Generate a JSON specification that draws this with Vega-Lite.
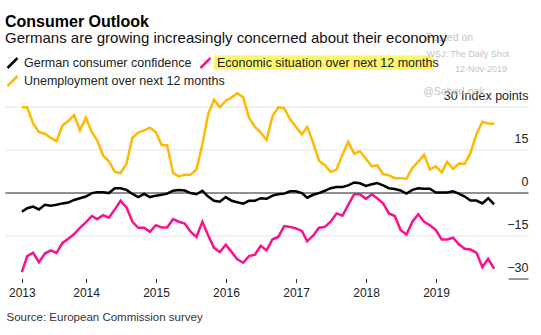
{
  "$schema": "https://vega.github.io/schema/vega-lite/v6.json",
  "width": 523,
  "height": 172,
  "autosize": {"type": "none"},
  "padding": {"left": 5, "top": 106.5, "right": 13, "bottom": 56.5},
  "background": "#ffffff",
  "config": {
    "font": "Liberation Sans",
    "view": {"stroke": null},
    "axis": {"labelFont": "Liberation Sans", "titleFont": "Liberation Sans"},
    "legend": {"labelFont": "Liberation Sans"}
  },
  "title": {
    "text": "Consumer Outlook",
    "subtitle": "Germans are growing increasingly concerned about their economy",
    "anchor": "start",
    "fontSize": 16,
    "fontWeight": "bold",
    "color": "#000000",
    "subtitleFontSize": 15,
    "subtitleColor": "#111111",
    "subtitlePadding": 0.5,
    "offset": -13
  },
  "layer": [
    {
      "data": {"values": [{}]},
      "mark": {"type": "rect", "color": "#faf76a"},
      "encoding": {
        "x": {"datum": {"year": 2015, "month": 10, "date": 29}, "type": "temporal"},
        "x2": {"datum": {"year": 2018, "month": 12, "date": 20}},
        "y": {"datum": 47.9, "type": "quantitative"},
        "y2": {"datum": 42.84}
      }
    },
    {
      "data": {"values": [{}]},
      "mark": {"type": "text", "align": "left", "baseline": "alphabetic", "fontSize": 10.5, "color": "#c4c4c4"},
      "encoding": {
        "x": {"datum": {"year": 2018, "month": 11, "date": 9}, "type": "temporal"},
        "y": {"datum": 53.0, "type": "quantitative"},
        "text": {"value": "Posted on"}
      }
    },
    {
      "data": {"values": [{}]},
      "mark": {"type": "text", "align": "left", "baseline": "alphabetic", "fontSize": 9, "color": "#c4c4c4"},
      "encoding": {
        "x": {"datum": {"year": 2018, "month": 11, "date": 12}, "type": "temporal"},
        "y": {"datum": 47.4, "type": "quantitative"},
        "text": {"value": "WSJ: The Daily Shot"}
      }
    },
    {
      "data": {"values": [{}]},
      "mark": {"type": "text", "align": "right", "baseline": "alphabetic", "fontSize": 9, "color": "#c4c4c4"},
      "encoding": {
        "x": {"datum": {"year": 2020, "month": 1, "date": 6}, "type": "temporal"},
        "y": {"datum": 41.9, "type": "quantitative"},
        "text": {"value": "12-Nov-2019"}
      }
    },
    {
      "data": {"values": [{}]},
      "mark": {"type": "text", "align": "left", "baseline": "alphabetic", "fontSize": 10.5, "color": "#c4c4c4"},
      "encoding": {
        "x": {"datum": {"year": 2018, "month": 10, "date": 27}, "type": "temporal"},
        "y": {"datum": 34.0, "type": "quantitative"},
        "text": {"value": "@SoberLook"}
      }
    },
    {
      "data": {
        "values": [
          {"date": "2013-01-31", "c": -6.7, "e": -27.8, "u": 29.7},
          {"date": "2013-02-28", "c": -5.5, "e": -22.2, "u": 29.7},
          {"date": "2013-03-31", "c": -4.9, "e": -21.0, "u": 24.0},
          {"date": "2013-04-30", "c": -5.9, "e": -24.3, "u": 21.1},
          {"date": "2013-05-31", "c": -4.3, "e": -21.3, "u": 20.5},
          {"date": "2013-06-30", "c": -4.6, "e": -20.2, "u": 19.1},
          {"date": "2013-07-31", "c": -4.3, "e": -21.1, "u": 17.9},
          {"date": "2013-08-31", "c": -3.8, "e": -17.6, "u": 23.4},
          {"date": "2013-09-30", "c": -3.5, "e": -16.1, "u": 24.9},
          {"date": "2013-10-31", "c": -2.6, "e": -14.5, "u": 27.0},
          {"date": "2013-11-30", "c": -2.0, "e": -12.3, "u": 21.7},
          {"date": "2013-12-31", "c": -1.4, "e": -10.4, "u": 26.1},
          {"date": "2014-01-31", "c": -0.2, "e": -8.2, "u": 21.1},
          {"date": "2014-02-28", "c": 0.1, "e": -9.3, "u": 18.2},
          {"date": "2014-03-31", "c": 0.1, "e": -7.9, "u": 12.9},
          {"date": "2014-04-30", "c": -0.2, "e": -8.8, "u": 10.9},
          {"date": "2014-05-31", "c": 1.5, "e": -5.9, "u": 7.2},
          {"date": "2014-06-30", "c": 1.5, "e": -2.9, "u": 6.8},
          {"date": "2014-07-31", "c": 0.9, "e": -5.2, "u": 10.1},
          {"date": "2014-08-31", "c": -0.5, "e": -10.2, "u": 19.1},
          {"date": "2014-09-30", "c": -1.6, "e": -12.3, "u": 20.9},
          {"date": "2014-10-31", "c": -0.5, "e": -12.3, "u": 21.7},
          {"date": "2014-11-30", "c": -1.6, "e": -13.7, "u": 22.6},
          {"date": "2014-12-31", "c": -1.1, "e": -11.4, "u": 21.1},
          {"date": "2015-01-31", "c": -0.8, "e": -12.2, "u": 16.5},
          {"date": "2015-02-28", "c": -0.4, "e": -12.2, "u": 16.5},
          {"date": "2015-03-31", "c": 0.6, "e": -9.3, "u": 6.8},
          {"date": "2015-04-30", "c": 0.9, "e": -10.2, "u": 5.6},
          {"date": "2015-05-31", "c": 0.7, "e": -10.8, "u": 6.2},
          {"date": "2015-06-30", "c": -0.2, "e": -13.7, "u": 6.2},
          {"date": "2015-07-31", "c": -0.6, "e": -15.5, "u": 8.0},
          {"date": "2015-08-31", "c": 0.6, "e": -10.2, "u": 16.8},
          {"date": "2015-09-30", "c": -1.4, "e": -14.9, "u": 27.3},
          {"date": "2015-10-31", "c": -2.9, "e": -19.3, "u": 32.4},
          {"date": "2015-11-30", "c": -3.2, "e": -20.8, "u": 29.7},
          {"date": "2015-12-31", "c": -1.6, "e": -18.2, "u": 32.0},
          {"date": "2016-01-31", "c": -2.9, "e": -20.8, "u": 33.2},
          {"date": "2016-02-29", "c": -3.4, "e": -23.3, "u": 34.6},
          {"date": "2016-03-31", "c": -3.9, "e": -24.5, "u": 33.2},
          {"date": "2016-04-30", "c": -2.9, "e": -22.2, "u": 26.1},
          {"date": "2016-05-31", "c": -2.9, "e": -21.7, "u": 22.9},
          {"date": "2016-06-30", "c": -2.0, "e": -18.6, "u": 20.9},
          {"date": "2016-07-31", "c": -2.2, "e": -20.2, "u": 18.3},
          {"date": "2016-08-31", "c": -1.1, "e": -16.3, "u": 26.7},
          {"date": "2016-09-30", "c": -0.6, "e": -15.5, "u": 29.7},
          {"date": "2016-10-31", "c": -0.4, "e": -11.7, "u": 29.4},
          {"date": "2016-11-30", "c": 0.4, "e": -12.0, "u": 25.6},
          {"date": "2016-12-31", "c": 0.4, "e": -12.5, "u": 22.9},
          {"date": "2017-01-31", "c": -0.2, "e": -13.4, "u": 20.3},
          {"date": "2017-02-28", "c": -1.8, "e": -17.0, "u": 22.9},
          {"date": "2017-03-31", "c": -0.8, "e": -15.1, "u": 17.4},
          {"date": "2017-04-30", "c": -0.2, "e": -12.3, "u": 11.1},
          {"date": "2017-05-31", "c": 0.6, "e": -12.0, "u": 9.5},
          {"date": "2017-06-30", "c": 1.5, "e": -10.2, "u": 7.2},
          {"date": "2017-07-31", "c": 1.9, "e": -7.3, "u": 8.0},
          {"date": "2017-08-31", "c": 1.9, "e": -8.1, "u": 13.2},
          {"date": "2017-09-30", "c": 2.5, "e": -4.3, "u": 17.7},
          {"date": "2017-10-31", "c": 3.5, "e": -0.6, "u": 13.5},
          {"date": "2017-11-30", "c": 3.2, "e": -0.6, "u": 14.4},
          {"date": "2017-12-31", "c": 2.3, "e": -2.2, "u": 11.8},
          {"date": "2018-01-31", "c": 2.9, "e": -0.6, "u": 9.1},
          {"date": "2018-02-28", "c": 3.3, "e": -2.0, "u": 9.5},
          {"date": "2018-03-31", "c": 2.5, "e": -3.8, "u": 6.4},
          {"date": "2018-04-30", "c": 1.5, "e": -7.3, "u": 6.0},
          {"date": "2018-05-31", "c": 1.2, "e": -8.2, "u": 5.0},
          {"date": "2018-06-30", "c": 0.7, "e": -13.1, "u": 5.0},
          {"date": "2018-07-31", "c": -0.4, "e": -14.7, "u": 4.8},
          {"date": "2018-08-31", "c": 0.9, "e": -10.2, "u": 8.6},
          {"date": "2018-09-30", "c": 1.5, "e": -7.6, "u": 10.7},
          {"date": "2018-10-31", "c": 1.3, "e": -10.2, "u": 13.2},
          {"date": "2018-11-30", "c": 1.3, "e": -11.4, "u": 8.0},
          {"date": "2018-12-31", "c": 0.0, "e": -13.1, "u": 9.1},
          {"date": "2019-01-31", "c": 0.0, "e": -16.4, "u": 7.0},
          {"date": "2019-02-28", "c": 0.0, "e": -16.4, "u": 10.7},
          {"date": "2019-03-31", "c": 0.4, "e": -15.8, "u": 8.2},
          {"date": "2019-04-30", "c": -0.4, "e": -18.1, "u": 10.1},
          {"date": "2019-05-31", "c": -1.4, "e": -19.6, "u": 10.0},
          {"date": "2019-06-30", "c": -2.8, "e": -19.9, "u": 13.8},
          {"date": "2019-07-31", "c": -2.8, "e": -21.0, "u": 20.3},
          {"date": "2019-08-31", "c": -3.8, "e": -26.0, "u": 24.7},
          {"date": "2019-09-30", "c": -2.0, "e": -23.1, "u": 24.1},
          {"date": "2019-10-31", "c": -4.1, "e": -26.6, "u": 24.0}
        ]
      },
      "transform": [{"fold": ["c", "e", "u"], "as": ["series", "value"]}],
      "mark": {"type": "line", "strokeWidth": 2.5, "strokeJoin": "miter"},
      "encoding": {
        "x": {
          "field": "date",
          "type": "temporal",
          "scale": {"domain": [{"year": 2012, "month": 11, "date": 4}, {"year": 2020, "month": 4, "date": 25}]},
          "axis": {
            "values": [
              {"year": 2013, "month": 1, "date": 31},
              {"year": 2014, "month": 1, "date": 1},
              {"year": 2015, "month": 1, "date": 1},
              {"year": 2016, "month": 1, "date": 1},
              {"year": 2017, "month": 1, "date": 1},
              {"year": 2018, "month": 1, "date": 1},
              {"year": 2019, "month": 1, "date": 1}
            ],
            "format": "%Y",
            "grid": false,
            "domain": false,
            "tickSize": 4,
            "tickColor": "#333333",
            "labelFontSize": 12,
            "labelColor": "#222222",
            "labelPadding": 5,
            "title": "Source: European Commission survey",
            "titleAnchor": "start",
            "titleAlign": "left",
            "titleBaseline": "alphabetic",
            "titleX": 1,
            "titleY": 41.5,
            "titleFontSize": 11.5,
            "titleFontWeight": "normal",
            "titleColor": "#333333"
          }
        },
        "y": {
          "field": "value",
          "type": "quantitative",
          "scale": {"domain": [-30, 30], "nice": false, "zero": false},
          "axis": {
            "orient": "right",
            "values": [-30, -15, 0, 15, 30],
            "title": null,
            "domain": false,
            "grid": true,
            "gridColor": {"condition": [{"test": "datum.value === 0", "value": "#222222"}, {"test": "datum.value === -30", "value": "transparent"}], "value": "#e3e3e3"},
            "gridWidth": 1,
            "ticks": true,
            "tickSize": -20,
            "tickColor": {"condition": {"test": "datum.value === -30", "value": "#333333"}, "value": "transparent"},
            "labelAlign": "right",
            "labelBaseline": "alphabetic",
            "labelOffset": -7,
            "labelPadding": 20,
            "labelFontSize": 12.5,
            "labelColor": "#222222",
            "labelOverlap": false,
            "labelBound": false,
            "labelExpr": "datum.value === 30 ? '30 Index points' : datum.label"
          }
        },
        "color": {
          "field": "series",
          "type": "nominal",
          "scale": {"domain": ["c", "e", "u"], "range": ["#000000", "#f8128c", "#ffb900"]},
          "legend": {
            "orient": "none",
            "legendX": 1,
            "legendY": -50,
            "direction": "horizontal",
            "columns": 2,
            "gridAlign": "none",
            "title": null,
            "symbolType": "M-1,1L1,-1",
            "symbolSize": 100,
            "symbolStrokeWidth": 2.5,
            "labelFontSize": 12.5,
            "labelColor": "#222222",
            "labelOffset": 5,
            "columnPadding": -30,
            "rowPadding": -3,
            "padding": 0,
            "labelLimit": 400,
            "labelExpr": "datum.value === 'c' ? 'German consumer confidence' : datum.value === 'e' ? 'Economic situation over next 12 months' : 'Unemployment over next 12 months'"
          }
        }
      }
    }
  ]
}
